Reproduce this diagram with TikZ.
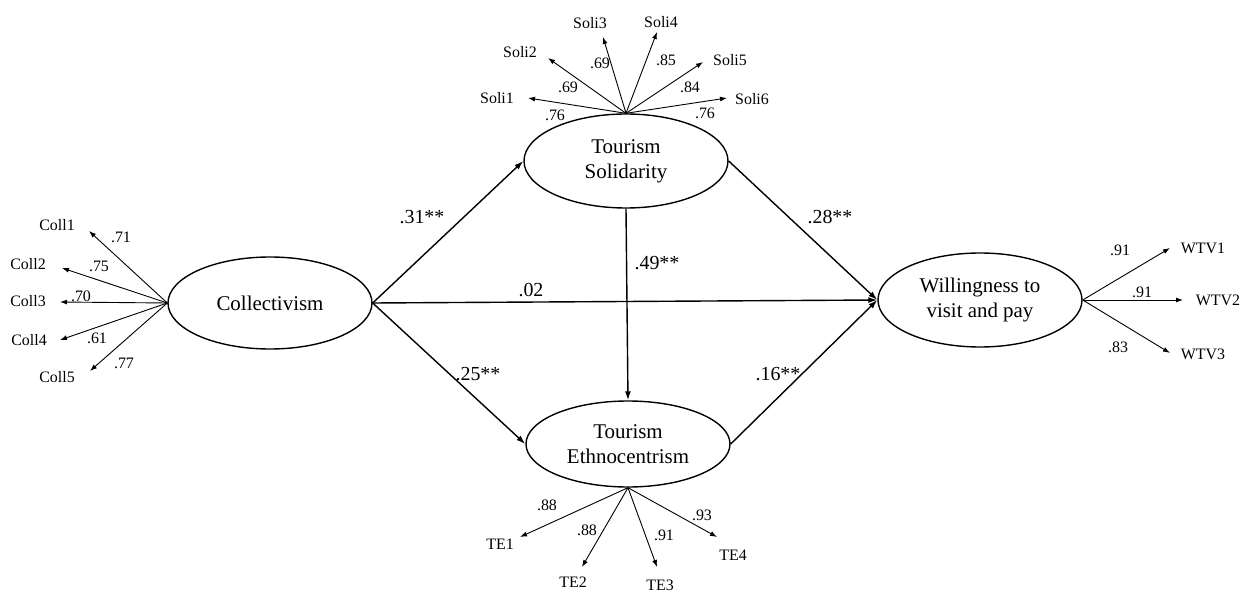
\documentclass[tikz,border=0pt]{standalone}
\usepackage{fontspec}
\setmainfont{Liberation Serif}
\usetikzlibrary{shapes.geometric,arrows.meta}
\begin{document}
\begin{tikzpicture}[x=1bp,y=-1bp,
  latent/.style={ellipse,draw,line width=1.4bp,minimum width=204bp,minimum height=92bp,inner sep=0pt,align=center,font=\fontsize{21}{25}\selectfont},
  ind/.style={font=\fontsize{16}{18}\selectfont,inner sep=0pt},
  load/.style={font=\fontsize{16}{18}\selectfont,inner sep=0pt},
  path/.style={font=\fontsize{20}{22}\selectfont,inner sep=0pt},
  indarrow/.style={line width=0.9bp,-{Latex[length=7bp,width=5bp]}},
  strarrow/.style={line width=1.4bp,-{Latex[length=9bp,width=6bp]}}]
\useasboundingbox (0,0) rectangle (1249,599);
% latent variables
\node[latent] (coll) at (270,303) {Collectivism};
\node[latent,minimum height=94bp] (soli) at (626,161) {Tourism\\Solidarity};
\node[latent,minimum height=86bp] (te) at (628,444) {Tourism\\Ethnocentrism};
\node[latent,minimum height=94bp] (wtv) at (980,300) {Willingness to\\visit and pay};
% structural paths
\draw[strarrow] (coll.east) -- (soli.west);
\draw[strarrow] (coll.east) -- (te.west);
\draw[strarrow] (coll.east) -- (wtv.west);
\draw[strarrow] (soli.east) -- (wtv.west);
\draw[strarrow] (te.east) -- (wtv.west);
\draw[strarrow] (soli.south) -- (te.north);
\node[path] (p1) at (422,217) {.31**};
\node[path] (p2) at (478,374) {.25**};
\node[path] (p3) at (531,290) {.02};
\node[path] (p4) at (657,263) {.49**};
\node[path] (p5) at (830,217) {.28**};
\node[path] (p6) at (778,374) {.16**};
% Collectivism indicators
\coordinate (c1t) at (89,231);
\coordinate (c2t) at (62,268);
\coordinate (c3t) at (60,302);
\coordinate (c4t) at (60,340);
\coordinate (c5t) at (90,371);
\foreach \t in {c1t,c2t,c3t,c4t,c5t} \draw[indarrow] (coll.west) -- (\t);
\node[ind] (c1) at (57,225) {Coll1};
\node[ind] (c2) at (28,264) {Coll2};
\node[ind] (c3) at (28,301) {Coll3};
\node[ind] (c4) at (29,340) {Coll4};
\node[ind] (c5) at (57,377) {Coll5};
\node[load] at (121,237) {.71};
\node[load] at (99,266) {.75};
\node[load] at (81,296) {.70};
\node[load] at (97,338) {.61};
\node[load] at (124,363) {.77};
% Solidarity indicators
\coordinate (s1t) at (528,98);
\coordinate (s2t) at (548,58);
\coordinate (s3t) at (603,37);
\coordinate (s4t) at (657,32);
\coordinate (s5t) at (703,62);
\coordinate (s6t) at (727,98);
\foreach \t in {s1t,s2t,s3t,s4t,s5t,s6t} \draw[indarrow] (soli.north) -- (\t);
\node[ind] (s1) at (497,98) {Soli1};
\node[ind] (s2) at (520,52) {Soli2};
\node[ind] (s3) at (590,23) {Soli3};
\node[ind] (s4) at (661,22) {Soli4};
\node[ind] (s5) at (730,60) {Soli5};
\node[ind] (s6) at (752,99) {Soli6};
\node[load] at (555,115) {.76};
\node[load] at (568,87) {.69};
\node[load] at (600,63) {.69};
\node[load] at (666,60) {.85};
\node[load] at (690,87) {.84};
\node[load] at (705,113) {.76};
% Ethnocentrism indicators
\coordinate (t1t) at (520,537);
\coordinate (t2t) at (582,567);
\coordinate (t3t) at (657,567);
\coordinate (t4t) at (717,537);
\foreach \t in {t1t,t2t,t3t,t4t} \draw[indarrow] (te.south) -- (\t);
\node[ind] (t1) at (500,544) {TE1};
\node[ind] (t2) at (573,582) {TE2};
\node[ind] (t3) at (660,585) {TE3};
\node[ind] (t4) at (733,555) {TE4};
\node[load] at (547,505) {.88};
\node[load] at (587,530) {.88};
\node[load] at (664,535) {.91};
\node[load] at (702,515) {.93};
% WTV indicators
\coordinate (w1t) at (1170,248);
\coordinate (w2t) at (1183,300);
\coordinate (w3t) at (1170,353);
\foreach \t in {w1t,w2t,w3t} \draw[indarrow] (wtv.east) -- (\t);
\node[ind] (w1) at (1203,248) {WTV1};
\node[ind] (w2) at (1218,300) {WTV2};
\node[ind] (w3) at (1203,354) {WTV3};
\node[load] at (1120,250) {.91};
\node[load] at (1142,292) {.91};
\node[load] at (1118,347) {.83};
\end{tikzpicture}
\end{document}
